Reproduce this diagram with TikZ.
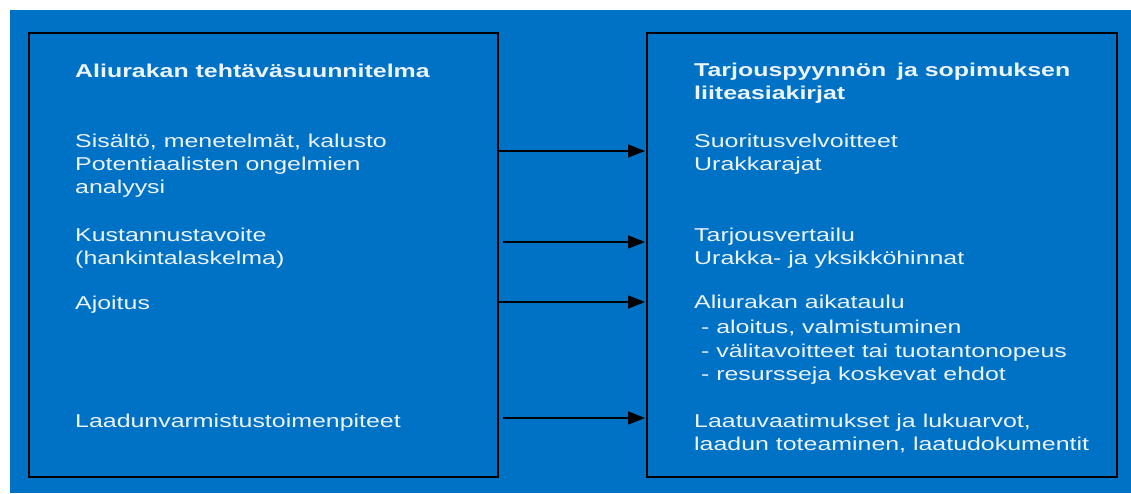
\documentclass[tikz,border=0pt]{standalone}
\usepackage{fontspec}
\setmainfont{Liberation Sans}[FakeStretch=1.34]
\usetikzlibrary{arrows.meta}
\definecolor{bg}{RGB}{0,114,198}
\definecolor{txtc}{RGB}{236,243,250}
\begin{document}
\begin{tikzpicture}[x=1pt,y=-1pt,
  box/.style={draw=black, line width=2.5pt, anchor=north west, inner sep=0pt, outer sep=0pt},
  txt/.style={anchor=base west, inner sep=0pt, text=txtc, font=\fontsize{18.6}{22}\selectfont},
  hd/.style={txt, font=\fontsize{18.6}{22}\selectfont\bfseries},
  arr/.style={draw=black, line width=1.3pt, -{Triangle[length=17pt,width=13pt]}, shorten >=2pt}]
\useasboundingbox (0,0) rectangle (1131,493);
\fill[white] (0,0) rectangle (1131,493);
\fill[bg] (10,10) rectangle (1131,493);
\node[box, minimum width=469pt, minimum height=444pt] (L) at (29,33) {};
\node[box, minimum width=470pt, minimum height=444pt] (R) at (647,33) {};
% left texts
\node[hd] (l0) at (75,77) {Aliurakan tehtäväsuunnitelma};
\node[txt] (l1) at (75,147) {Sisältö, menetelmät, kalusto};
\node[txt] (l2) at (75,170) {Potentiaalisten ongelmien};
\node[txt] (l3) at (75,193) {analyysi};
\node[txt] (l4) at (75,241) {Kustannustavoite};
\node[txt] (l5) at (75,264) {(hankintalaskelma)};
\node[txt] (l6) at (75,309) {Ajoitus};
\node[txt] (l7) at (75,427) {Laadunvarmistustoimenpiteet};
% right texts
\node[hd] (r0) at (694,76) {Tarjouspyynnön\hspace{4pt} ja sopimuksen};
\node[hd] (r1) at (694,99) {liiteasiakirjat};
\node[txt] (r2) at (694,147) {Suoritusvelvoitteet};
\node[txt] (r3) at (694,170) {Urakkarajat};
\node[txt] (r4) at (694,241) {Tarjousvertailu};
\node[txt] (r5) at (694,264) {Urakka- ja yksikköhinnat};
\node[txt] (r6) at (694,308) {Aliurakan aikataulu};
\node[txt] (r7) at (694,333) {\ - aloitus, valmistuminen};
\node[txt] (r8) at (694,357) {\ - välitavoitteet tai tuotantonopeus};
\node[txt] (r9) at (694,380) {\ - resursseja koskevat ehdot};
\node[txt] (r10) at (694,427) {Laatuvaatimukset ja lukuarvot,};
\node[txt] (r11) at (694,450) {laadun toteaminen, laatudokumentit};
% arrows
\coordinate (y1) at (0,151);
\coordinate (y2) at (0,242);
\coordinate (y3) at (0,302);
\coordinate (y4) at (0,418);
\draw[arr] (L.east |- y1) -- (R.west |- y1);
\draw[arr, shorten <=5pt] (L.east |- y2) -- (R.west |- y2);
\draw[arr] (L.east |- y3) -- (R.west |- y3);
\draw[arr, shorten <=5pt] (L.east |- y4) -- (R.west |- y4);
\end{tikzpicture}
\end{document}
